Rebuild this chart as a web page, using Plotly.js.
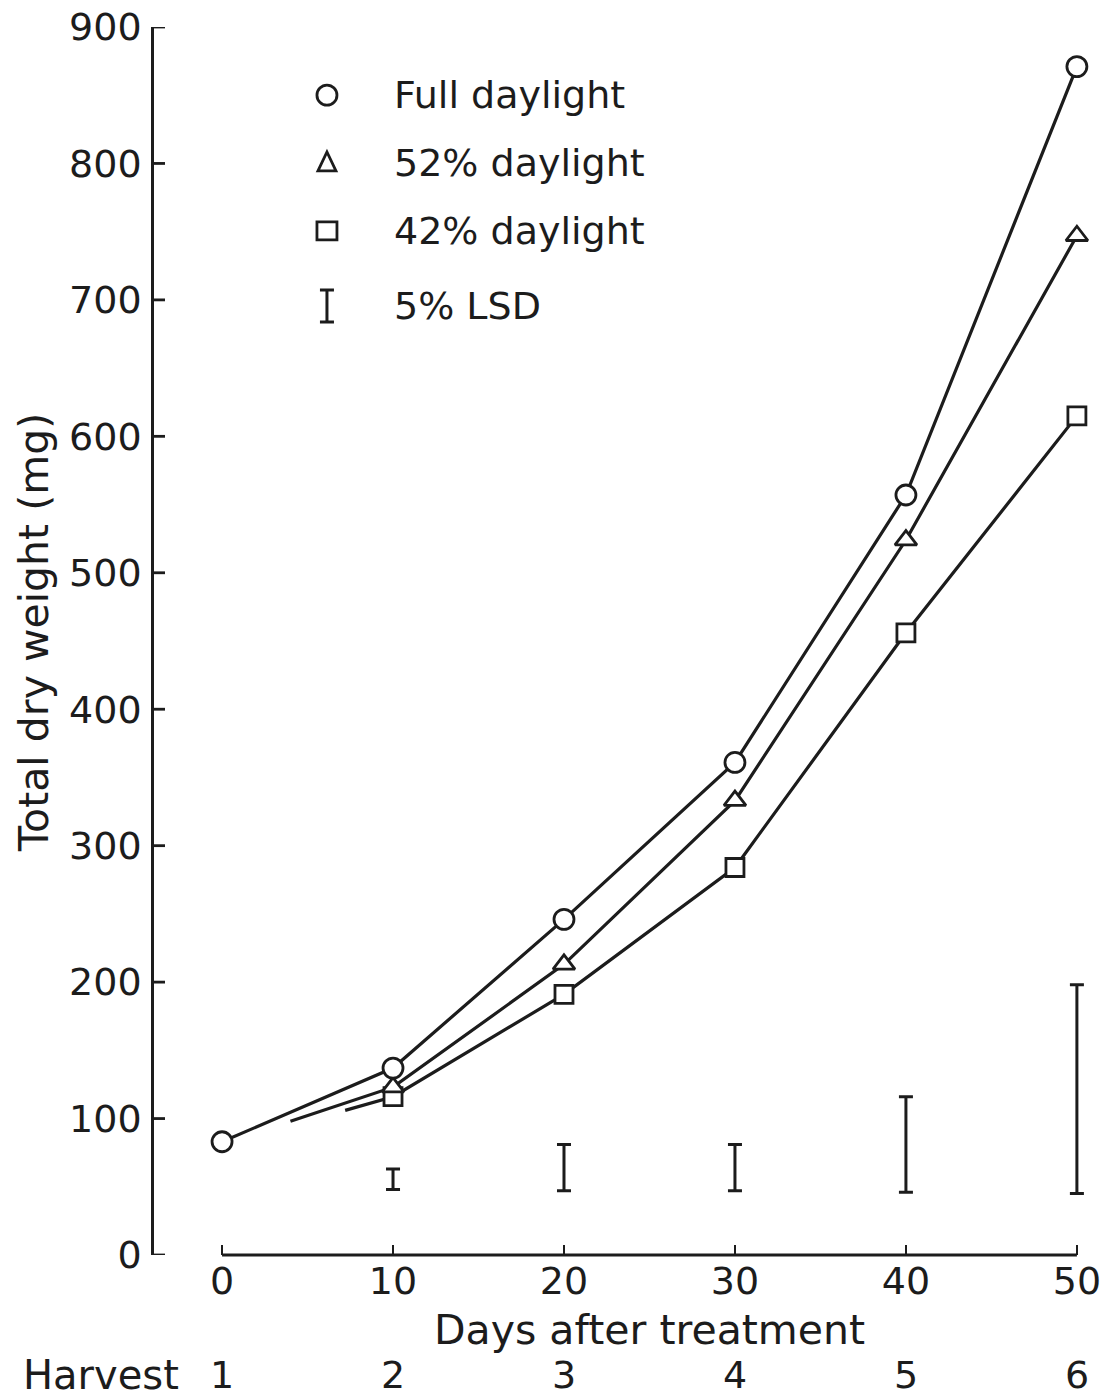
<!DOCTYPE html>
<html>
<head>
<meta charset="utf-8">
<script src="https://cdn.plot.ly/plotly-3.0.1.min.js"></script>
<style>
  html, body { margin: 0; padding: 0; background: #ffffff; }
  #chart { width: 1114px; height: 1398px; }
</style>
</head>
<body>
<div id="chart"></div>
<script>
// Days after treatment at each harvest
const days = [0, 10, 20, 30, 40, 50];
const harvests = ['1', '2', '3', '4', '5', '6'];
const weightTicks = [0, 100, 200, 300, 400, 500, 600, 700, 800, 900];

// Total dry weight (mg) per light treatment
const fullDaylight = [83, 137, 246, 361, 557, 871];
const daylight52 = [123, 213, 333, 524, 747];   // harvests 2-6
const daylight42 = [116, 191, 284, 456, 615];   // harvests 2-6

// Where the shaded-treatment lines begin (day, mg) before their first harvest
const lead52 = [4, 98];
const lead42 = [7.2, 106];

// 5% least significant difference bars (harvests 2-6)
const lsdDays = [10, 20, 30, 40, 50];
const lsdLow = [48, 47, 47, 46, 45];
const lsdHigh = [63, 81, 81, 116, 198];

const seriesNames = ['Full daylight', '52% daylight', '42% daylight'];
const lsdName = '5% LSD';
const xTitle = 'Days after treatment';
const yTitle = 'Total dry weight (mg)';
const harvestTitle = 'Harvest';

const INK = '#1c1c1c';
const FONT = 'DejaVu Sans, sans-serif';
const W = 2.8;   // stroke weight for axes, ticks and marker outlines

function withLead(lead, vals) {
  return {
    x: [lead[0]].concat(days.slice(1)),
    y: [lead[1]].concat(vals),
    opacity: [0].concat(vals.map(() => 1))
  };
}

const s52 = withLead(lead52, daylight52);
const s42 = withLead(lead42, daylight42);

const markerLine = { color: INK, width: W };

const traces = [
  {
    x: lsdDays, y: lsdLow, type: 'scatter', mode: 'markers',
    marker: { size: 1, opacity: 0 },
    error_y: {
      type: 'data', symmetric: false,
      array: lsdHigh.map((h, i) => h - lsdLow[i]),
      arrayminus: lsdLow.map(() => 0),
      color: INK, thickness: 3, width: 7
    },
    hoverinfo: 'skip', cliponaxis: false, name: lsdName
  },
  {
    x: s42.x, y: s42.y, type: 'scatter', mode: 'lines+markers', name: seriesNames[2],
    line: { color: INK, width: 3.2 },
    marker: { symbol: 'square', size: 18, color: '#ffffff', line: markerLine, opacity: s42.opacity },
    cliponaxis: false
  },
  {
    x: s52.x, y: s52.y, type: 'scatter', mode: 'lines+markers', name: seriesNames[1],
    line: { color: INK, width: 3.2 },
    marker: { symbol: 'triangle-up', size: 19, color: '#ffffff', line: markerLine, opacity: s52.opacity },
    cliponaxis: false
  },
  {
    x: days, y: fullDaylight, type: 'scatter', mode: 'lines+markers', name: seriesNames[0],
    line: { color: INK, width: 3.2 },
    marker: { symbol: 'circle', size: 20, color: '#ffffff', line: markerLine },
    cliponaxis: false
  }
];

// Key in the upper left of the plot
const keyX = 0.184;          // symbol column (paper)
const keyTextX = 0.253;      // label column (paper)
const keyRows = [0.9445, 0.8893, 0.8339, 0.7728];
const keyShapes = [
  { type: 'circle', xref: 'paper', yref: 'paper', xsizemode: 'pixel', ysizemode: 'pixel',
    xanchor: keyX, yanchor: keyRows[0], x0: -10, x1: 10, y0: -10, y1: 10,
    line: { color: INK, width: W }, fillcolor: '#ffffff' },
  { type: 'path', xref: 'paper', yref: 'paper', xsizemode: 'pixel', ysizemode: 'pixel',
    xanchor: keyX, yanchor: keyRows[1], path: 'M -9,-8 L 9,-8 L 0,11 Z',
    line: { color: INK, width: W } },
  { type: 'rect', xref: 'paper', yref: 'paper', xsizemode: 'pixel', ysizemode: 'pixel',
    xanchor: keyX, yanchor: keyRows[2], x0: -10, x1: 10, y0: -9, y1: 9,
    line: { color: INK, width: W } },
  { type: 'path', xref: 'paper', yref: 'paper', xsizemode: 'pixel', ysizemode: 'pixel',
    xanchor: keyX, yanchor: keyRows[3], path: 'M -7,16 H 7 M 0,16 V -16 M -7,-16 H 7',
    line: { color: INK, width: 3 } }
];

// Day axis line runs from the first to the last harvest only
const dayAxisLine = {
  type: 'line', xref: 'x', yref: 'paper',
  x0: days[0], x1: days[days.length - 1], y0: 0, y1: 0,
  line: { color: INK, width: W }
};

// Weight-axis tick stubs pointing into the plot
const weightTickStubs = weightTicks.map(v => ({
  type: 'line', xref: 'paper', yref: 'y', xsizemode: 'pixel', xanchor: 0,
  x0: 0, x1: 11, y0: v, y1: v,
  line: { color: INK, width: W }
}));

const keyLabels = seriesNames.concat([lsdName]).map((t, i) => ({
  text: t, xref: 'paper', yref: 'paper', x: keyTextX, y: keyRows[i],
  xanchor: 'left', yanchor: 'middle', showarrow: false,
  font: { family: FONT, size: 38, color: INK }
}));

// Axis titles
const titleLabels = [
  { text: xTitle, xref: 'x', yref: 'paper', x: 25, y: -0.0612,
    xanchor: 'center', yanchor: 'middle', showarrow: false,
    font: { family: FONT, size: 41, color: INK } },
  { text: yTitle, xref: 'paper', yref: 'paper', x: -0.127, y: 0.507, textangle: -90,
    xanchor: 'center', yanchor: 'middle', showarrow: false,
    font: { family: FONT, size: 41, color: INK } }
];

// Harvest numbers beneath the day axis
const harvestLabels = harvests.map((h, i) => ({
  text: h, xref: 'x', yref: 'paper', x: days[i], y: 0, yshift: -120,
  xanchor: 'center', yanchor: 'middle', showarrow: false,
  font: { family: FONT, size: 38, color: INK }
}));
harvestLabels.push({
  text: harvestTitle, xref: 'paper', yref: 'paper', x: 0.0285, y: 0, yshift: -120,
  xanchor: 'right', yanchor: 'middle', showarrow: false,
  font: { family: FONT, size: 40, color: INK }
});

const layout = {
  width: 1114, height: 1398,
  paper_bgcolor: '#ffffff', plot_bgcolor: '#ffffff',
  margin: { l: 154, r: 20, t: 27, b: 143 },
  showlegend: false,
  font: { family: FONT, color: INK },
  xaxis: {
    range: [-3.98, 51], anchor: 'y',
    tickvals: days, ticktext: days.map(String),
    ticks: 'inside', ticklen: 10, tickwidth: W, tickcolor: INK,
    showline: false, showgrid: false, zeroline: false,
    ticklabelstandoff: 0,
    tickfont: { family: FONT, size: 38, color: INK },
    automargin: false, fixedrange: true
  },
  yaxis: {
    range: [0, 900], anchor: 'x',
    tickvals: weightTicks, ticktext: weightTicks.map(String),
    ticks: '',
    showline: true, linecolor: INK, linewidth: W,
    showgrid: false, zeroline: false,
    ticklabelstandoff: 2,
    tickfont: { family: FONT, size: 38, color: INK },
    automargin: false, fixedrange: true
  },
  shapes: [dayAxisLine].concat(weightTickStubs, keyShapes),
  annotations: titleLabels.concat(keyLabels, harvestLabels)
};

Plotly.newPlot('chart', traces, layout, { displayModeBar: false, staticPlot: true });
</script>
</body>
</html>
